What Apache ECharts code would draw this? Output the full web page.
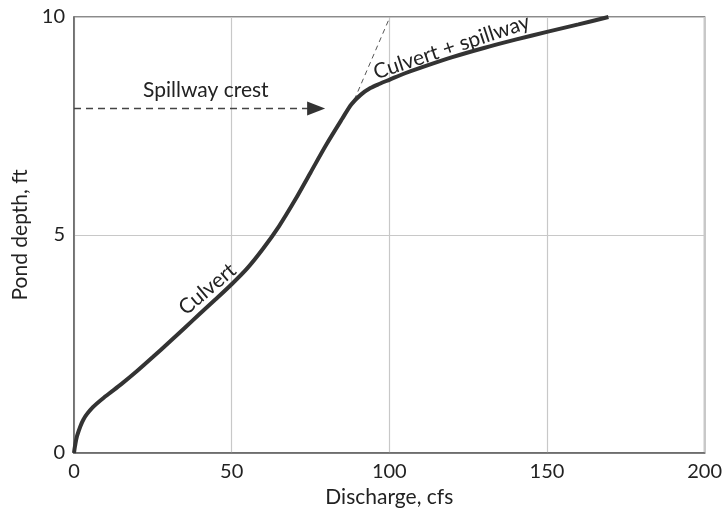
<!DOCTYPE html>
<html>
<head>
<meta charset="utf-8">
<script src="https://cdn.jsdelivr.net/npm/echarts@6/dist/echarts.min.js"></script>
<style>
html,body{margin:0;padding:0;background:#fff;}
#c{width:725px;height:515px;}
</style>
</head>
<body>
<div id="c"></div>
<script>
// Rating curve: discharge (cfs) vs pond depth (ft)
var discharge = [0, 0.3, 1, 3, 6, 10, 15, 20, 25, 30, 35, 40, 45, 50, 55, 60, 65, 70, 75, 80, 85, 88, 91, 94, 97, 100, 105, 110, 120, 130, 140, 150, 160, 169.5];
var depth     = [0, 0.15, 0.40, 0.77, 1.05, 1.30, 1.58, 1.88, 2.20, 2.53, 2.86, 3.20, 3.53, 3.87, 4.24, 4.69, 5.20, 5.79, 6.43, 7.07, 7.66, 8.00, 8.22, 8.37, 8.47, 8.56, 8.71, 8.84, 9.08, 9.29, 9.48, 9.66, 9.83, 10.0];
// Culvert-only extrapolation (dashed)
var culvertExtQ = [88.9, 100.2];
var culvertExtD = [8.1, 10.0];
// Spillway crest level
var crestDepth = 7.9;
var crestArrowEndQ = 79.5;
var xTicks = [0, 50, 100, 150, 200];
var yTicks = [0, 5, 10];

var chart = echarts.init(document.getElementById('c'));
var font = 'Lato, "Open Sans", sans-serif';
var curve = discharge.map(function (q, i) { return [q, depth[i]]; });

var option = {
  animation: false,
  grid: { left: 74, right: 15, top: 17, bottom: 62, show: true, borderColor: '#666', borderWidth: 1.5 },
  xAxis: {
    type: 'value', min: xTicks[0], max: xTicks[xTicks.length - 1], interval: 50,
    name: 'Discharge, cfs', nameLocation: 'middle', nameGap: 31,
    nameTextStyle: { fontFamily: font, fontSize: 21, color: '#222' },
    axisLine: { show: true, lineStyle: { color: '#666', width: 1.5 } },
    axisTick: { show: false },
    axisLabel: { fontFamily: font, fontSize: 20, color: '#222', margin: 9 },
    splitLine: { show: true, lineStyle: { color: '#c8c8c8', width: 1.2 } }
  },
  yAxis: {
    type: 'value', min: yTicks[0], max: yTicks[yTicks.length - 1], interval: 5,
    name: 'Pond depth, ft', nameLocation: 'middle', nameGap: 37,
    nameTextStyle: { fontFamily: font, fontSize: 21, color: '#222' },
    axisLine: { show: true, lineStyle: { color: '#666', width: 1.5 } },
    axisTick: { show: false },
    axisLabel: { fontFamily: font, fontSize: 20, color: '#222', margin: 9 },
    splitLine: { show: true, lineStyle: { color: '#c8c8c8', width: 1.2 } }
  },
  series: [
    {
      type: 'line', data: curve, smooth: 0.3, symbol: 'none',
      lineStyle: { color: '#333', width: 4 }, z: 5
    },
    {
      type: 'line', data: [[culvertExtQ[0], culvertExtD[0]], [culvertExtQ[1], culvertExtD[1]]],
      symbol: 'none', lineStyle: { color: '#555', width: 1, type: [5, 4] }, z: 3
    },
    {
      type: 'line', data: [[0, crestDepth], [crestArrowEndQ, crestDepth]], symbol: 'none',
      lineStyle: { color: '#444', width: 1.4, type: [7, 5] }, z: 3,
      markPoint: {
        symbol: 'triangle', symbolSize: [14, 18], symbolRotate: -90,
        itemStyle: { color: '#333' }, label: { show: false },
        data: [{ coord: [crestArrowEndQ - 2.7, crestDepth] }]
      }
    }
  ]
};
chart.setOption(option);

function px(q, d) { return chart.convertToPixel({ gridIndex: 0 }, [q, d]); }
var p1 = px(41.8, 8.32), p2 = px(42.3, 3.76), p3 = px(119.8, 9.31);
chart.setOption({
  graphic: [
    { type: 'text', x: p1[0], y: p1[1], style: { text: 'Spillway crest', fontFamily: font, fontSize: 21, fill: '#222', textAlign: 'center', textVerticalAlign: 'middle' } },
    { type: 'text', x: p2[0], y: p2[1], rotation: 40 * Math.PI / 180, style: { text: 'Culvert', fontFamily: font, fontSize: 21, fill: '#222', textAlign: 'center', textVerticalAlign: 'middle' } },
    { type: 'text', x: p3[0], y: p3[1], rotation: 18.5 * Math.PI / 180, style: { text: 'Culvert + spillway', fontFamily: font, fontSize: 21, fill: '#222', textAlign: 'center', textVerticalAlign: 'middle' } }
  ]
});
</script>
</body>
</html>
